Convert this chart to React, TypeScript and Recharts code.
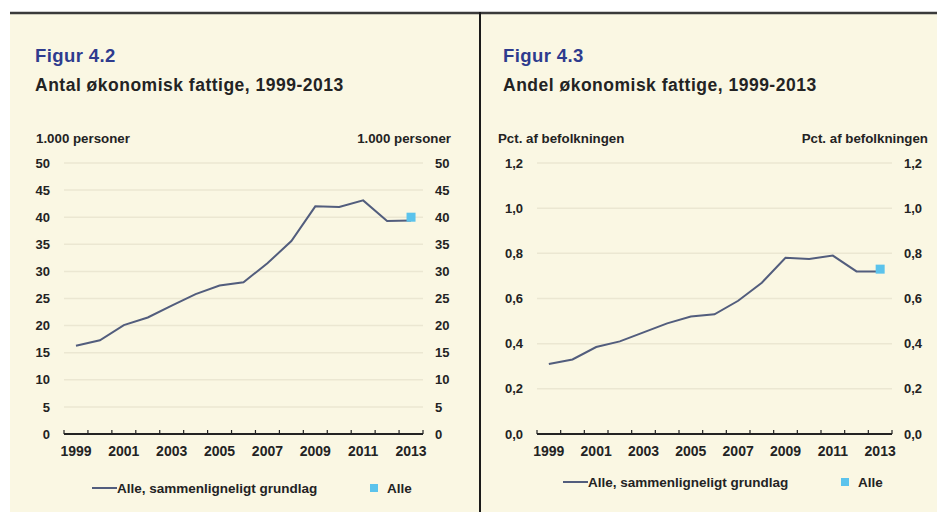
import { LineChart, Line, XAxis, YAxis, CartesianGrid } from "recharts"

const years = ["1999", "2000", "2001", "2002", "2003", "2004", "2005", "2006", "2007", "2008", "2009", "2010", "2011", "2012", "2013"]

// Figur 4.2, 1.000 personer
const antalSammenlign = [16.3, 17.3, 20.1, 21.5, 23.7, 25.8, 27.4, 28.0, 31.5, 35.6, 42.0, 41.9, 43.1, 39.3, 39.4]
const antalAlle = [null, null, null, null, null, null, null, null, null, null, null, null, null, null, 40.0]
const antalTicks = [0, 5, 10, 15, 20, 25, 30, 35, 40, 45, 50]

// Figur 4.3, pct. af befolkningen
const andelSammenlign = [0.31, 0.33, 0.385, 0.41, 0.45, 0.49, 0.52, 0.53, 0.59, 0.67, 0.78, 0.775, 0.79, 0.72, 0.72]
const andelAlle = [null, null, null, null, null, null, null, null, null, null, null, null, null, null, 0.73]
const andelTicks = [0, 0.2, 0.4, 0.6, 0.8, 1.0, 1.2]

const FONT = '"Liberation Sans", Arial, sans-serif'
const INK = "#232323"
const BLUE = "#2e3b8e"
const LINE = "#525d7d"
const SQUARE = "#5bc3ec"
const GRID = "#ebe7d2"
const BG = "#faf7e3"

const antalData = years.map((year, i) => ({ year, sammen: antalSammenlign[i], alle: antalAlle[i] }))
const andelData = years.map((year, i) => ({ year, sammen: andelSammenlign[i], alle: andelAlle[i] }))

const comma = (v: number) => v.toFixed(1).replace(".", ",")

function makeYearTick(band: number) {
  return (props: any) => {
    const { x, y, payload, index } = props
    const left = x - band / 2
    return (
      <g>
        <line x1={left} x2={left} y1={y} y2={y - 4} stroke={INK} strokeWidth={1.2} />
        {index === years.length - 1 && (
          <line x1={x + band / 2} x2={x + band / 2} y1={y} y2={y - 4} stroke={INK} strokeWidth={1.2} />
        )}
        {index % 2 === 0 && (
          <text x={x} y={y + 22} textAnchor="middle" fill={INK} fontSize={14} fontWeight={700} fontFamily={FONT}>
            {payload.value}
          </text>
        )}
      </g>
    )
  }
}

const squareDot = (p: any) => {
  if (p.value == null || p.cy == null) return <g key={p.key ?? p.index} />
  return <rect key={p.key ?? p.index} x={p.cx - 4.5} y={p.cy - 4.5} width={9} height={9} fill={SQUARE} />
}

const tickStyle = { fill: INK, fontSize: 13, fontWeight: 700, fontFamily: FONT }

function Panel({ data, ticks, fmt, width, left, right, plotW }: any) {
  const band = plotW / years.length
  return (
    <LineChart
      width={width}
      height={512}
      data={data}
      margin={{ top: 163, left, right, bottom: 48 }}
      style={{ fontFamily: FONT }}
    >
      <CartesianGrid yAxisId="left" vertical={false} stroke={GRID} strokeWidth={1.5} horizontalValues={ticks.slice(1)} />
      <XAxis
        dataKey="year"
        scale="band"
        interval={0}
        height={30}
        tickSize={0}
        tickMargin={0}
        tickLine={false}
        axisLine={{ stroke: INK, strokeWidth: 2 }}
        tick={makeYearTick(band)}
      />
      <YAxis
        yAxisId="left"
        domain={[ticks[0], ticks[ticks.length - 1]]}
        ticks={ticks}
        width={40}
        axisLine={false}
        tickLine={false}
        tickSize={0}
        tickMargin={14}
        tickFormatter={fmt}
        tick={tickStyle}
      />
      <YAxis
        yAxisId="right"
        orientation="right"
        domain={[ticks[0], ticks[ticks.length - 1]]}
        ticks={ticks}
        width={40}
        axisLine={false}
        tickLine={false}
        tickSize={0}
        tickMargin={12}
        tickFormatter={fmt}
        tick={tickStyle}
      />
      <Line
        yAxisId="left"
        dataKey="sammen"
        type="linear"
        stroke={LINE}
        strokeWidth={2}
        dot={false}
        isAnimationActive={false}
      />
      <Line
        yAxisId="right"
        dataKey="alle"
        stroke="none"
        dot={squareDot}
        isAnimationActive={false}
      />
    </LineChart>
  )
}

function Legend({ x, y }: { x: number; y: number }) {
  return (
    <g fontFamily={FONT} fontSize={13.5} fontWeight={700} fill={INK}>
      <line x1={x} x2={x + 25} y1={y} y2={y} stroke={LINE} strokeWidth={2} />
      <text x={x + 25} y={y + 5}>Alle, sammenligneligt grundlag</text>
      <rect x={x + 278} y={y - 4} width={8} height={8} fill={SQUARE} />
      <text x={x + 295} y={y + 5}>Alle</text>
    </g>
  )
}

export default function App() {
  return (
    <div style={{ position: "absolute", left: 0, top: 0, width: 937, height: 512, background: "#fff", overflow: "hidden" }}>
      <div style={{ position: "absolute", left: 10, top: 13, width: 927, height: 499, background: BG }} />

      <div style={{ position: "absolute", left: 0, top: 0 }}>
        <Panel data={antalData} ticks={antalTicks} fmt={(v: number) => String(v)} width={470} left={24} right={7} plotW={359} />
      </div>
      <div style={{ position: "absolute", left: 470, top: 0 }}>
        <Panel data={andelData} ticks={andelTicks} fmt={comma} width={467} left={27} right={5} plotW={355} />
      </div>

      <svg width={937} height={512} style={{ position: "absolute", left: 0, top: 0, pointerEvents: "none" }}>
        <line x1={10} x2={937} y1={13} y2={13} stroke="#3a3a3a" strokeWidth={2.5} />
        <line x1={480} x2={480} y1={12} y2={512} stroke="#1a1a1a" strokeWidth={2} />

        <g fontFamily={FONT} fontWeight={700}>
          <text x={35} y={62} fontSize={18.5} fill={BLUE} letterSpacing={0.4}>Figur 4.2</text>
          <text x={35} y={91} fontSize={17.5} fill={INK} letterSpacing={0.5}>Antal økonomisk fattige, 1999-2013</text>
          <text x={503} y={62} fontSize={18.5} fill={BLUE} letterSpacing={0.4}>Figur 4.3</text>
          <text x={503} y={91} fontSize={17.5} fill={INK} letterSpacing={0.5}>Andel økonomisk fattige, 1999-2013</text>
        </g>

        <g fontFamily={FONT} fontSize={13.3} fontWeight={700} fill={INK}>
          <text x={36} y={143}>1.000 personer</text>
          <text x={451} y={143} textAnchor="end">1.000 personer</text>
          <text x={498} y={143}>Pct. af befolkningen</text>
          <text x={928} y={143} textAnchor="end">Pct. af befolkningen</text>
        </g>

        <Legend x={92} y={488} />
        <Legend x={563} y={482} />
      </svg>
    </div>
  )
}
